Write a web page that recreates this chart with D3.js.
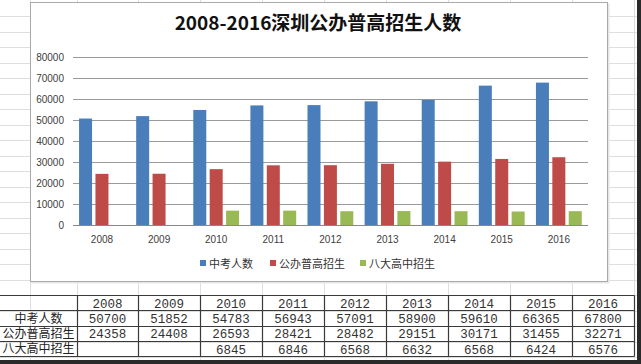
<!DOCTYPE html>
<html>
<head>
<meta charset="utf-8">
<script src="https://cdn.jsdelivr.net/npm/d3@7"></script>
<style>
html,body{margin:0;padding:0;background:#fff;}
svg{display:block;}
</style>
</head>
<body>
<svg id="c" width="641" height="364"></svg>
<script>
const years = ["2008","2009","2010","2011","2012","2013","2014","2015","2016"];
const seriesNames = ["中考人数","公办普高招生","八大高中招生"];
const zhongkao = [50700,51852,54783,56943,57091,58900,59610,66365,67800];
const gongban = [24358,24408,26593,28421,28482,29151,30171,31455,32271];
const bada = [null,null,6845,6846,6568,6632,6568,6424,6576];
const yTicks = [0,10000,20000,30000,40000,50000,60000,70000,80000];
const title = "2008-2016深圳公办普高招生人数";
const colors = ["#4A7EBB","#BE4B48","#98B954"];

const svg = d3.select("#c");
const seriesData = [zhongkao, gongban, bada];

// spreadsheet background grid
const sheetCols = [77,138,200,262,324,386,448,510,572,634];
const bg = svg.append("g");
for (let k = 1; k < 24; k++) {
  const y = Math.round(0.5 + 15.5 * k) + 0.5;
  bg.append("line").attr("x1",0).attr("x2",641).attr("y1",y).attr("y2",y)
    .attr("stroke","#dedede").attr("stroke-width",1);
}
[30].concat(sheetCols).forEach(x => {
  bg.append("line").attr("x1",x+0.5).attr("x2",x+0.5).attr("y1",0).attr("y2",364)
    .attr("stroke","#dedede").attr("stroke-width",1);
});

// chart box
svg.append("rect").attr("x",31.5).attr("y",3.5).attr("width",578).attr("height",280)
  .attr("fill","#e6e6e6");
svg.append("rect").attr("x",30.5).attr("y",2.5).attr("width",577).attr("height",279)
  .attr("fill","#fff").attr("stroke","#a9a9a9").attr("stroke-width",1);

// title
svg.append("text").attr("x",318).attr("y",30).attr("text-anchor","middle")
  .attr("font-family","'Noto Sans CJK SC','Noto Sans',sans-serif").attr("font-weight","bold")
  .attr("font-size",19).attr("fill","#111").text(title);

// scales
const x = d3.scaleBand().domain(years).range([73.4,587.4]).paddingInner(0).paddingOuter(0);
const y = d3.scaleLinear().domain([0,80000]).range([225,57]);
const barW = 13, gap = 3.4;
const groupW = 3*barW + 2*gap;

// gridlines
const grid = svg.append("g");
yTicks.forEach(t => {
  grid.append("line").attr("x1",73).attr("x2",588)
    .attr("y1",Math.round(y(t))+0.5).attr("y2",Math.round(y(t))+0.5)
    .attr("stroke", t===0 ? "#888" : "#9a9a9a").attr("stroke-width",1);
});

// y axis labels
const yAxis = d3.axisLeft(y).tickValues(yTicks).tickSize(0).tickPadding(0).tickFormat(d3.format("d"));
const yg = svg.append("g").attr("transform","translate(64,0)").call(yAxis);
yg.select(".domain").remove();
yg.selectAll("text").attr("font-family","'Liberation Sans',Arial,sans-serif").attr("font-size",10).attr("fill","#404040").attr("dy","0.35em");

// x axis labels
const xAxis = d3.axisBottom(x).tickSize(0).tickPadding(0);
const xg = svg.append("g").attr("transform","translate(0,236)").call(xAxis);
xg.select(".domain").remove();
xg.selectAll("text").attr("font-family","'Liberation Sans',Arial,sans-serif").attr("font-size",10).attr("fill","#404040");

// bars
seriesData.forEach((arr, si) => {
  svg.append("g").selectAll("rect")
    .data(arr.map((v,i) => ({v, yr: years[i]})).filter(d => d.v != null))
    .join("rect")
    .attr("x", d => x(d.yr) + (x.bandwidth()-groupW)/2 + si*(barW+gap))
    .attr("y", d => y(d.v))
    .attr("width", barW)
    .attr("height", d => y(0) - y(d.v))
    .attr("fill", colors[si]);
});

// legend
const legendX = [200, 270, 360];
const lg = svg.append("g");
seriesNames.forEach((n,i) => {
  lg.append("rect").attr("x",legendX[i]).attr("y",260).attr("width",6).attr("height",6).attr("fill",colors[i]);
  lg.append("text").attr("x",legendX[i]+9).attr("y",267.5)
    .attr("font-family","'Noto Sans CJK SC',sans-serif").attr("font-size",11).attr("fill","#333").text(n);
});

// table
const rowLines = [295,310,326,341,356];
const tbl = svg.append("g");
const colEdges = [-1].concat(sheetCols);
rowLines.forEach(r => {
  tbl.append("line").attr("x1",0).attr("x2",634.5).attr("y1",r+0.5).attr("y2",r+0.5)
    .attr("stroke","#3a3a3a").attr("stroke-width",1.2);
});
sheetCols.forEach(c => {
  tbl.append("line").attr("x1",c+0.5).attr("x2",c+0.5).attr("y1",295.5).attr("y2",356.5)
    .attr("stroke","#3a3a3a").attr("stroke-width",1.2);
});
const cellFont = "'Liberation Mono','DejaVu Sans Mono',monospace";
years.forEach((yr,i) => {
  const cx = (colEdges[i+1]+colEdges[i+2])/2;
  tbl.append("text").attr("x",cx).attr("y",307.5).attr("text-anchor","middle")
    .attr("font-family",cellFont).attr("font-size",12.5).attr("fill","#333").text(yr);
  seriesData.forEach((arr,si) => {
    if (arr[i] == null) return;
    tbl.append("text").attr("x",cx).attr("y",323 + si*15.3).attr("text-anchor","middle")
      .attr("font-family",cellFont).attr("font-size",12.5).attr("fill","#333").text(arr[i]);
  });
});
seriesNames.forEach((n,si) => {
  tbl.append("text").attr("x",38.5).attr("y",322.5 + si*15.3).attr("text-anchor","middle")
    .attr("font-family","'Noto Sans CJK SC',sans-serif").attr("font-size",12).attr("fill","#222").text(n);
});

// dark photo edges
svg.append("rect").attr("x",637).attr("y",0).attr("width",4).attr("height",364).attr("fill","#2a2a2a");
svg.append("rect").attr("x",0).attr("y",360).attr("width",641).attr("height",4).attr("fill","#2a2a2a");
</script>
</body>
</html>
